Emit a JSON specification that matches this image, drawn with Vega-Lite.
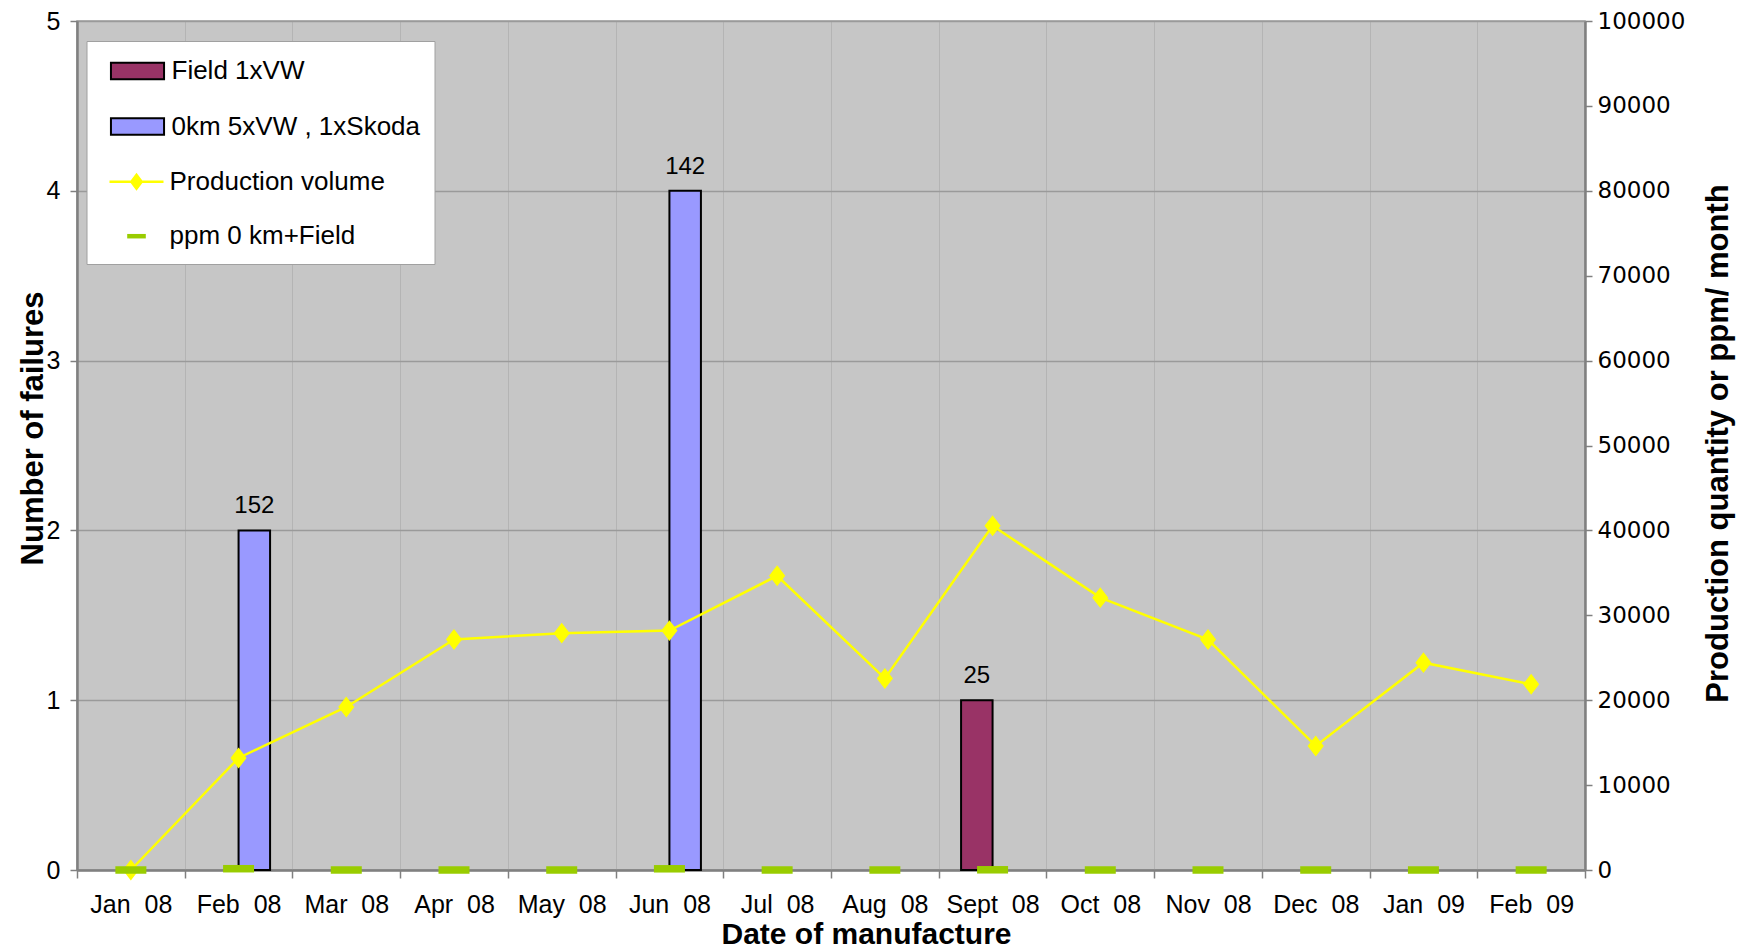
{
  "$schema": "https://vega.github.io/schema/vega-lite/v6.json",
  "width": 1508,
  "height": 849,
  "autosize": "none",
  "padding": {"left": 77, "top": 21, "right": 153, "bottom": 79},
  "background": "white",
  "config": {
    "view": {"fill": "#C6C6C6", "stroke": "#9A9A9A", "strokeWidth": 1.5},
    "font": "Liberation Sans",
    "axis": {
      "labelFont": "Liberation Sans",
      "titleFont": "Liberation Sans",
      "labelColor": "#000000",
      "titleColor": "#000000",
      "titleFontWeight": "bold",
      "titleFontSize": 31,
      "labelFontSize": 25,
      "domainColor": "#808080",
      "domainWidth": 2.5,
      "tickColor": "#808080",
      "tickWidth": 1.5
    }
  },
  "datasets": {
    "monthly": [
      {"month": "Jan 08", "production": 0, "ppm": 0, "ppmSeries": "ppm 0 km+Field"},
      {"month": "Feb 08", "production": 13200, "ppm": 152, "ppmSeries": "ppm 0 km+Field"},
      {"month": "Mar 08", "production": 19200, "ppm": 0, "ppmSeries": "ppm 0 km+Field"},
      {"month": "Apr 08", "production": 27150, "ppm": 0, "ppmSeries": "ppm 0 km+Field"},
      {"month": "May 08", "production": 27900, "ppm": 0, "ppmSeries": "ppm 0 km+Field"},
      {"month": "Jun 08", "production": 28200, "ppm": 142, "ppmSeries": "ppm 0 km+Field"},
      {"month": "Jul 08", "production": 34650, "ppm": 0, "ppmSeries": "ppm 0 km+Field"},
      {"month": "Aug 08", "production": 22560, "ppm": 0, "ppmSeries": "ppm 0 km+Field"},
      {"month": "Sept 08", "production": 40550, "ppm": 25, "ppmSeries": "ppm 0 km+Field"},
      {"month": "Oct 08", "production": 32080, "ppm": 0, "ppmSeries": "ppm 0 km+Field"},
      {"month": "Nov 08", "production": 27150, "ppm": 0, "ppmSeries": "ppm 0 km+Field"},
      {"month": "Dec 08", "production": 14610, "ppm": 0, "ppmSeries": "ppm 0 km+Field"},
      {"month": "Jan 09", "production": 24420, "ppm": 0, "ppmSeries": "ppm 0 km+Field"},
      {"month": "Feb 09", "production": 21880, "ppm": 0, "ppmSeries": "ppm 0 km+Field"}
    ],
    "failures": [
      {"month": "Feb 08", "series": "0km 5xVW , 1xSkoda", "failures": 2, "ppm": 152},
      {"month": "Jun 08", "series": "0km 5xVW , 1xSkoda", "failures": 4, "ppm": 142},
      {"month": "Sept 08", "series": "Field 1xVW", "failures": 1, "ppm": 25}
    ]
  },
  "encoding": {
    "x": {
      "field": "month",
      "type": "nominal",
      "scale": {
        "domain": ["Jan 08", "Feb 08", "Mar 08", "Apr 08", "May 08", "Jun 08", "Jul 08", "Aug 08", "Sept 08", "Oct 08", "Nov 08", "Dec 08", "Jan 09", "Feb 09"],
        "paddingInner": 0,
        "paddingOuter": 0
      },
      "axis": {
        "title": "Date of manufacture",
        "titleFontSize": 30,
        "labelAngle": 0,
        "tickBand": "extent",
        "grid": true,
        "gridColor": "#B4B4B4",
        "gridWidth": 1,
        "tickSize": 8,
        "labelPadding": 14,
        "labelExpr": "replace(datum.label, ' ', '\u00a0 ')",
        "titleX": 789,
        "titleY": 73,
        "titleBaseline": "alphabetic",
        "titleAlign": "center"
      }
    }
  },
  "layer": [
    {
      "data": {"name": "failures"},
      "encoding": {
        "y": {
          "field": "failures",
          "type": "quantitative",
          "scale": {"domain": [0, 5], "nice": false},
          "axis": {
            "orient": "left",
            "values": [0, 1, 2, 3, 4, 5],
            "format": "d",
            "grid": true,
            "gridColor": "#9A9A9A",
            "gridWidth": 1.5,
            "tickSize": 7,
            "labelPadding": 10,
            "title": "Number of failures",
            "titleAngle": -90,
            "titleX": -35,
            "titleY": 407,
            "titleBaseline": "alphabetic",
            "titleAlign": "center"
          }
        },
        "xOffset": {
          "field": "series",
          "type": "nominal",
          "scale": {"domain": ["Field 1xVW", "0km 5xVW , 1xSkoda"], "paddingInner": 0, "paddingOuter": 0.71}
        }
      },
      "layer": [
        {
          "mark": {"type": "bar", "stroke": "#000000", "strokeWidth": 2, "opacity": 1},
          "encoding": {
            "color": {
              "field": "series",
              "type": "nominal",
              "scale": {
                "domain": ["Field 1xVW", "0km 5xVW , 1xSkoda"],
                "range": ["#993366", "#9999FF"]
              },
              "legend": {
                "orient": "none",
                "legendX": 9.5,
                "legendY": 20,
                "zindex": 1,
                "title": "\u00a0",
                "titleOrient": "bottom",
                "titleFontSize": 10,
                "titlePadding": 100,
                "padding": 14,
                "fillColor": "#FFFFFF",
                "strokeColor": "#A0A0A0",
                "symbolSize": 900,
                "symbolOffset": 21,
                "symbolType": "M-1.77,-0.55H1.77V0.55H-1.77Z",
                "symbolStrokeColor": "#000000",
                "symbolStrokeWidth": 2,
                "labelOffset": 18,
                "rowPadding": 26.5,
                "labelFontSize": 26,
                "labelFont": "Liberation Sans",
                "labelColor": "#000000",
                "labelLimit": 400
              }
            }
          }
        },
        {
          "mark": {"type": "text", "dy": -24, "fontSize": 24, "font": "Liberation Sans", "color": "#000000", "baseline": "middle"},
          "encoding": {
            "text": {"field": "ppm", "type": "quantitative"}
          }
        }
      ]
    },
    {
      "data": {"name": "monthly"},
      "encoding": {
        "y": {
          "field": "production",
          "type": "quantitative",
          "scale": {"domain": [0, 100000], "nice": false},
          "axis": {
            "orient": "right",
            "values": [0, 10000, 20000, 30000, 40000, 50000, 60000, 70000, 80000, 90000, 100000],
            "format": "d",
            "grid": false,
            "tickSize": 7,
            "labelPadding": 5,
            "labelFont": "DejaVu Sans",
            "labelFontSize": 23,
            "title": "Production quantity or ppm/ month",
            "titleAngle": -90,
            "titleX": 142,
            "titleY": 422,
            "titleBaseline": "alphabetic",
            "titleAlign": "center"
          }
        }
      },
      "layer": [
        {
          "mark": {"type": "line", "strokeWidth": 2.5, "color": "#FFFF00"},
          "encoding": {}
        },
        {
          "mark": {"type": "point", "shape": "M0,-1.1L0.85,0L0,1.1L-0.85,0Z", "size": 361, "filled": true, "opacity": 1, "color": "#FFFF00"},
          "encoding": {}
        },
        {
          "mark": {"type": "point", "size": 2500, "filled": true, "opacity": 1, "strokeWidth": 0},
          "encoding": {
            "y": {"field": "ppm", "type": "quantitative"},
            "color": {
              "field": "ppmSeries",
              "type": "nominal",
              "scale": {"domain": ["Production volume", "ppm 0 km+Field"], "range": ["#FFFF00", "#99CC00"]},
              "legend": {
                "orient": "none",
                "legendX": 9.5,
                "legendY": 131.7,
                "zindex": 2,
                "title": null,
                "padding": 14,
                "symbolSize": 900,
                "symbolOffset": 21,
                "symbolStrokeWidth": 0,
                "labelOffset": 18,
                "rowPadding": 26.5,
                "labelFontSize": 26,
                "labelFont": "Liberation Sans",
                "labelColor": "#000000",
                "labelLimit": 400
              }
            },
            "shape": {
              "field": "ppmSeries",
              "type": "nominal",
              "scale": {
                "domain": ["Production volume", "ppm 0 km+Field"],
                "range": ["M-1.8,-0.085H1.8V0.085H-1.8Z M0,-0.6L0.45,0L0,0.6L-0.45,0Z", "M-0.62,-0.15H0.62V0.15H-0.62Z"]
              },
              "legend": {
                "orient": "none",
                "legendX": 9.5,
                "legendY": 131.7,
                "zindex": 2,
                "title": null,
                "padding": 14,
                "symbolSize": 900,
                "symbolOffset": 21,
                "symbolStrokeWidth": 0,
                "labelOffset": 18,
                "rowPadding": 26.5,
                "labelFontSize": 26,
                "labelFont": "Liberation Sans",
                "labelColor": "#000000",
                "labelLimit": 400
              }
            }
          }
        }
      ]
    }
  ],
  "resolve": {"scale": {"y": "independent", "color": "independent", "shape": "independent"}}
}
